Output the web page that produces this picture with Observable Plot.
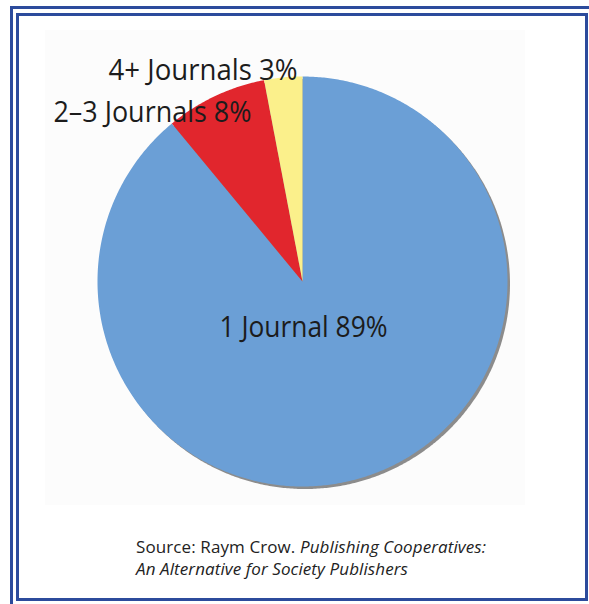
<!DOCTYPE html>
<html>
<head>
<meta charset="utf-8">
<script src="https://cdn.jsdelivr.net/npm/d3@7"></script>
<script src="https://cdn.jsdelivr.net/npm/@observablehq/plot@0.6"></script>
<style>
  html, body { margin: 0; padding: 0; background: #fff; }
  #frame { position: relative; width: 589px; height: 604px; overflow: hidden; background: #fff; font-family: "Open Sans", sans-serif; }
  .outer { position: absolute; left: 10px; top: 6px; width: 620px; height: 640px; border: 3px solid #2c4b9c; }
  .inner { position: absolute; left: 16px; top: 13px; width: 566px; height: 582px; border: 3px solid #2c4b9c; }
  .bg { position: absolute; left: 45px; top: 30px; width: 480px; height: 475px; background: #fcfcfc; }
  #chart { position: absolute; left: 0; top: 0; }
  .caption { position: absolute; left: 136px; top: 536px; font-size: 17px; line-height: 22px; color: #222; font-family: "Open Sans", sans-serif; letter-spacing: 0.1px; }
  .caption i { font-style: italic; }
</style>
</head>
<body>
<div id="frame">
  <div class="outer"></div>
  <div class="inner"></div>
  <div class="bg"></div>
  <div id="chart"></div>
  <div class="caption">Source: Raym Crow. <i>Publishing Cooperatives:</i><br><i>An Alternative for Society Publishers</i></div>
</div>
<script>
const categories = ["1 Journal", "2–3 Journals", "4+ Journals"];
const shares = [89, 8, 3];
const colors = ["#6b9fd6", "#e1262d", "#fbf08b"];
const labels = ["1 Journal 89%", "2–3 Journals 8%", "4+ Journals 3%"];

// slices clockwise from 12 o'clock
const total = d3.sum(shares);
const slicePts = [];
let acc = 0;
categories.forEach((c, i) => {
  const a0 = acc / total * 2 * Math.PI;
  acc += shares[i];
  const a1 = acc / total * 2 * Math.PI;
  slicePts.push({cat: c, x: 0, y: 0});
  const n = Math.max(4, Math.ceil((a1 - a0) / (Math.PI / 360)));
  for (let k = 0; k <= n; k++) {
    const a = a0 + (a1 - a0) * k / n;
    slicePts.push({cat: c, x: Math.sin(a), y: Math.cos(a)});
  }
  slicePts.push({cat: c, x: 0, y: 0});
});
const circlePts = d3.range(0, 721).map(k => ({x: Math.sin(k / 720 * 2 * Math.PI), y: Math.cos(k / 720 * 2 * Math.PI)}));

const labelData = [
  {text: labels[0], x: 0.005, y: -0.273, anchor: "middle", len: 168},
  {text: labels[1], x: -1.215, y: 0.780, anchor: "start", len: 198},
  {text: labels[2], x: -0.946, y: 0.985, anchor: "start", len: 189}
];

const plot = Plot.plot({
  width: 589,
  height: 604,
  margin: 0,
  style: {background: "transparent", overflow: "visible"},
  x: {domain: [-1, 1], range: [97, 507], axis: null},
  y: {domain: [-1, 1], range: [486, 76], axis: null},
  color: {domain: categories, range: colors},
  marks: [
    Plot.line(circlePts, {x: "x", y: "y", fill: "#8c8c8c", stroke: "none", dx: 2.5, dy: 2.5}),
    Plot.line(slicePts, {x: "x", y: "y", z: "cat", fill: "cat", stroke: "none"}),
    Plot.text(labelData.filter(d => d.anchor === "middle"), {x: "x", y: "y", text: "text", textAnchor: "middle", lineAnchor: "bottom", fontSize: 29, fill: "#1c1c1c"}),
    Plot.text(labelData.filter(d => d.anchor === "start"), {x: "x", y: "y", text: "text", textAnchor: "start", lineAnchor: "bottom", fontSize: 29, fill: "#1c1c1c"})
  ]
});
plot.style.fontFamily = "'Open Sans', sans-serif";
document.getElementById("chart").appendChild(plot);

// fit label widths to the reference
const lens = {};
labelData.forEach(d => lens[d.text] = d.len);
d3.select(plot).selectAll("text").each(function() {
  const t = this.textContent;
  if (lens[t]) {
    d3.select(this).attr("textLength", lens[t]).attr("lengthAdjust", "spacingAndGlyphs");
  }
});
</script>
</body>
</html>
